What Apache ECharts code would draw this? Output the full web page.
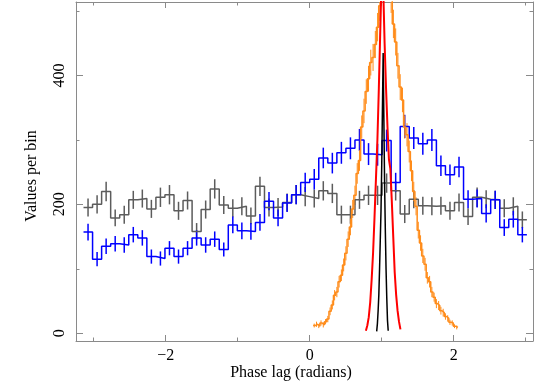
<!DOCTYPE html>
<html><head><meta charset="utf-8">
<script src="https://cdn.jsdelivr.net/npm/echarts@6/dist/echarts.min.js"></script>
<style>html,body{margin:0;padding:0;background:#fff}#c{width:534px;height:382px}</style>
</head><body><div id="c"></div>
<script>
// ---- data ----
const binStart = -Math.PI;            // first bin edge of the wide histograms
const binWidth = 2 * Math.PI / 50;    // bin width of the wide histograms
const grayCounts = [195,200,220,179,184,207,209,193,211,215,190,206,158,192,224,199,194,197,182,228,195,196,203,215,212,209,221,217,184,184,207,214,214,233,221,185,208,198,197,198,190,203,181,211,208,207,194,197,176];
const grayErr    = [14,14,15,13,14,14,14,14,15,15,14,14,13,14,15,14,14,14,13,15,14,14,14,15,15,14,15,15,14,14,14,15,15,15,15,14,14,14,14,14,14,14,13,15,14,14,14,14,13];
const blueCounts = [157,115,135,139,137,153,148,119,116,132,119,132,148,137,146,130,168,159,158,172,205,179,202,215,234,239,272,264,280,287,300,278,277,299,234,321,303,294,300,260,246,258,208,209,186,207,164,177,153];
const blueErr    = [13,11,12,12,12,12,12,11,11,11,11,11,12,12,12,11,13,13,13,13,14,13,14,15,15,16,16,16,17,17,17,17,17,17,15,18,17,17,17,16,16,16,14,14,14,14,13,13,12];
const orangeStart = 0.0471;           // first bin edge of the orange histogram
const orangeWidth = Math.PI / 100;
const orangeCounts = [12,14,11,16,13,18,22,34,44,59,64,80,90,106,124,146,165,193,214,248,268,320,345,375,395,420,428,448,475,508,545,575,560,540,520,480,452,415,382,362,320,308,282,252,220,197,160,140,120,107,86,80,64,56,46,43,35,32,26,23,17,16,11,9];
const orangeErr = [3,4,3,4,4,4,5,6,7,8,8,9,9,10,11,12,13,14,15,16,16,18,19,19,20,20,21,21,22,23,23,24,24,23,23,22,21,20,20,19,18,18,17,16,15,14,13,12,11,10,9,9,8,7,7,7,6,6,5,5,4,4,3,3];
const redPhase  = [0.78,0.80,0.82,0.84,0.86,0.88,0.90,0.92,0.94,0.96,0.98,1.00,1.02,1.04,1.06,1.08,1.10,1.12,1.14,1.16,1.18,1.20,1.22,1.24,1.26];
const redCounts = [4,12,25,48,83,125,180,240,300,380,470,560,540,450,380,320,270,255,205,150,95,60,35,18,6];
const blackPhase  = [0.93,0.94,0.95,0.96,0.97,0.98,0.99,1.00,1.01,1.02,1.03,1.04,1.05,1.06,1.07,1.08,1.09];
const blackCounts = [3,15,35,60,100,145,190,260,350,435,330,230,160,100,55,20,4];
const xMajorTicks = [-2, 0, 2];
const xMinorTicks = [-3, -1, 1, 3];
const yMajorTicks = [0, 200, 400];
const yMinorTicks = [100, 300, 500];

// ---- helpers ----
function stepData(start, w, counts) {
  const d = counts.map((v, i) => [start + i * w, v]);
  d.push([start + counts.length * w, counts[counts.length - 1]]);
  return d;
}
function errData(start, w, counts, err) {
  return counts.map((v, i) => [start + (i + 0.5) * w, v - err[i], v + err[i]]);
}
function errSeries(data, color, lw) {
  return {
    type: 'custom', data: data, clip: true, silent: true,
    renderItem: function (params, api) {
      const p1 = api.coord([api.value(0), api.value(1)]);
      const p2 = api.coord([api.value(0), api.value(2)]);
      return { type: 'line', shape: { x1: p1[0], y1: p1[1], x2: p2[0], y2: p2[1] },
               style: { stroke: color, lineWidth: lw } };
    }
  };
}
function stepSeries(data, color, lw) {
  return { type: 'line', step: 'end', data: data, symbol: 'none', clip: true, silent: true,
           lineStyle: { color: color, width: lw } };
}
function lineSeries(xs, ys, color, lw) {
  return { type: 'line', data: xs.map((x, i) => [x, ys[i]]), symbol: 'none', clip: true, silent: true,
           lineStyle: { color: color, width: lw } };
}

const FONT = '"Liberation Serif", "DejaVu Serif", serif';
const AX = '#8a8a8a';
const XMIN = -3.246, XMAX = 3.101, YMIN = -12, YMAX = 514;

function xAx(pos, ticks, len, labels, line) {
  return {
    type: 'value', position: pos, min: XMIN, max: XMAX,
    axisLine: { show: line, onZero: false, lineStyle: { color: AX, width: 1 } },
    axisTick: { show: true, inside: true, length: len, customValues: ticks, lineStyle: { color: AX } },
    axisLabel: { show: !!labels, customValues: labels || [], color: '#000', fontFamily: FONT, fontSize: 16, margin: 7,
                 formatter: v => (v < 0 ? '\u2212' + Math.abs(v) : String(v)) },
    splitLine: { show: false }
  };
}
function yAx(pos, ticks, len, labels, line) {
  return {
    type: 'value', position: pos, min: YMIN, max: YMAX,
    axisLine: { show: line, onZero: false, lineStyle: { color: AX, width: 1 } },
    axisTick: { show: true, inside: true, length: len, customValues: ticks, lineStyle: { color: AX } },
    axisLabel: { show: !!labels, customValues: labels || [], color: '#000', fontFamily: FONT, fontSize: 16, margin: 8, rotate: 90 },
    splitLine: { show: false }
  };
}

const chart = echarts.init(document.getElementById('c'), null, { renderer: 'canvas' });
chart.setOption({
  animation: false,
  backgroundColor: '#fff',
  grid: { left: 76, right: 1, top: 2, bottom: 41, containLabel: false },
  xAxis: [
    xAx('bottom', xMajorTicks, 6, xMajorTicks, true),
    xAx('bottom', xMinorTicks, 3.5, null, false),
    xAx('top', xMajorTicks, 6, null, true),
    xAx('top', xMinorTicks, 3.5, null, false)
  ],
  yAxis: [
    yAx('left', yMajorTicks, 7, yMajorTicks, true),
    yAx('left', yMinorTicks, 3.5, null, false),
    yAx('right', yMajorTicks, 7, null, true),
    yAx('right', yMinorTicks, 3.5, null, false)
  ],
  graphic: [
    { type: 'text', x: 291, y: 373, style: { text: 'Phase lag (radians)', font: '16px ' + FONT, fill: '#000', align: 'center', verticalAlign: 'middle' } },
    { type: 'text', x: 32, y: 176, rotation: Math.PI / 2, style: { text: 'Values per bin', font: '16px ' + FONT, fill: '#000', align: 'center', verticalAlign: 'middle' } }
  ],
  series: [
    stepSeries(stepData(binStart, binWidth, grayCounts), '#5c5c5c', 1.5),
    errSeries(errData(binStart, binWidth, grayCounts, grayErr), '#5c5c5c', 1.5),
    stepSeries(stepData(binStart, binWidth, blueCounts), '#0000ff', 1.5),
    errSeries(errData(binStart, binWidth, blueCounts, blueErr), '#0000ff', 1.5),
    stepSeries(stepData(orangeStart, orangeWidth, orangeCounts), '#ff8c1a', 1.5),
    errSeries(errData(orangeStart, orangeWidth, orangeCounts, orangeErr), '#ff8c1a', 1),
    lineSeries(redPhase, redCounts, '#ff0000', 2),
    lineSeries(blackPhase, blackCounts, '#000000', 1.5)
  ]
});
</script></body></html>
